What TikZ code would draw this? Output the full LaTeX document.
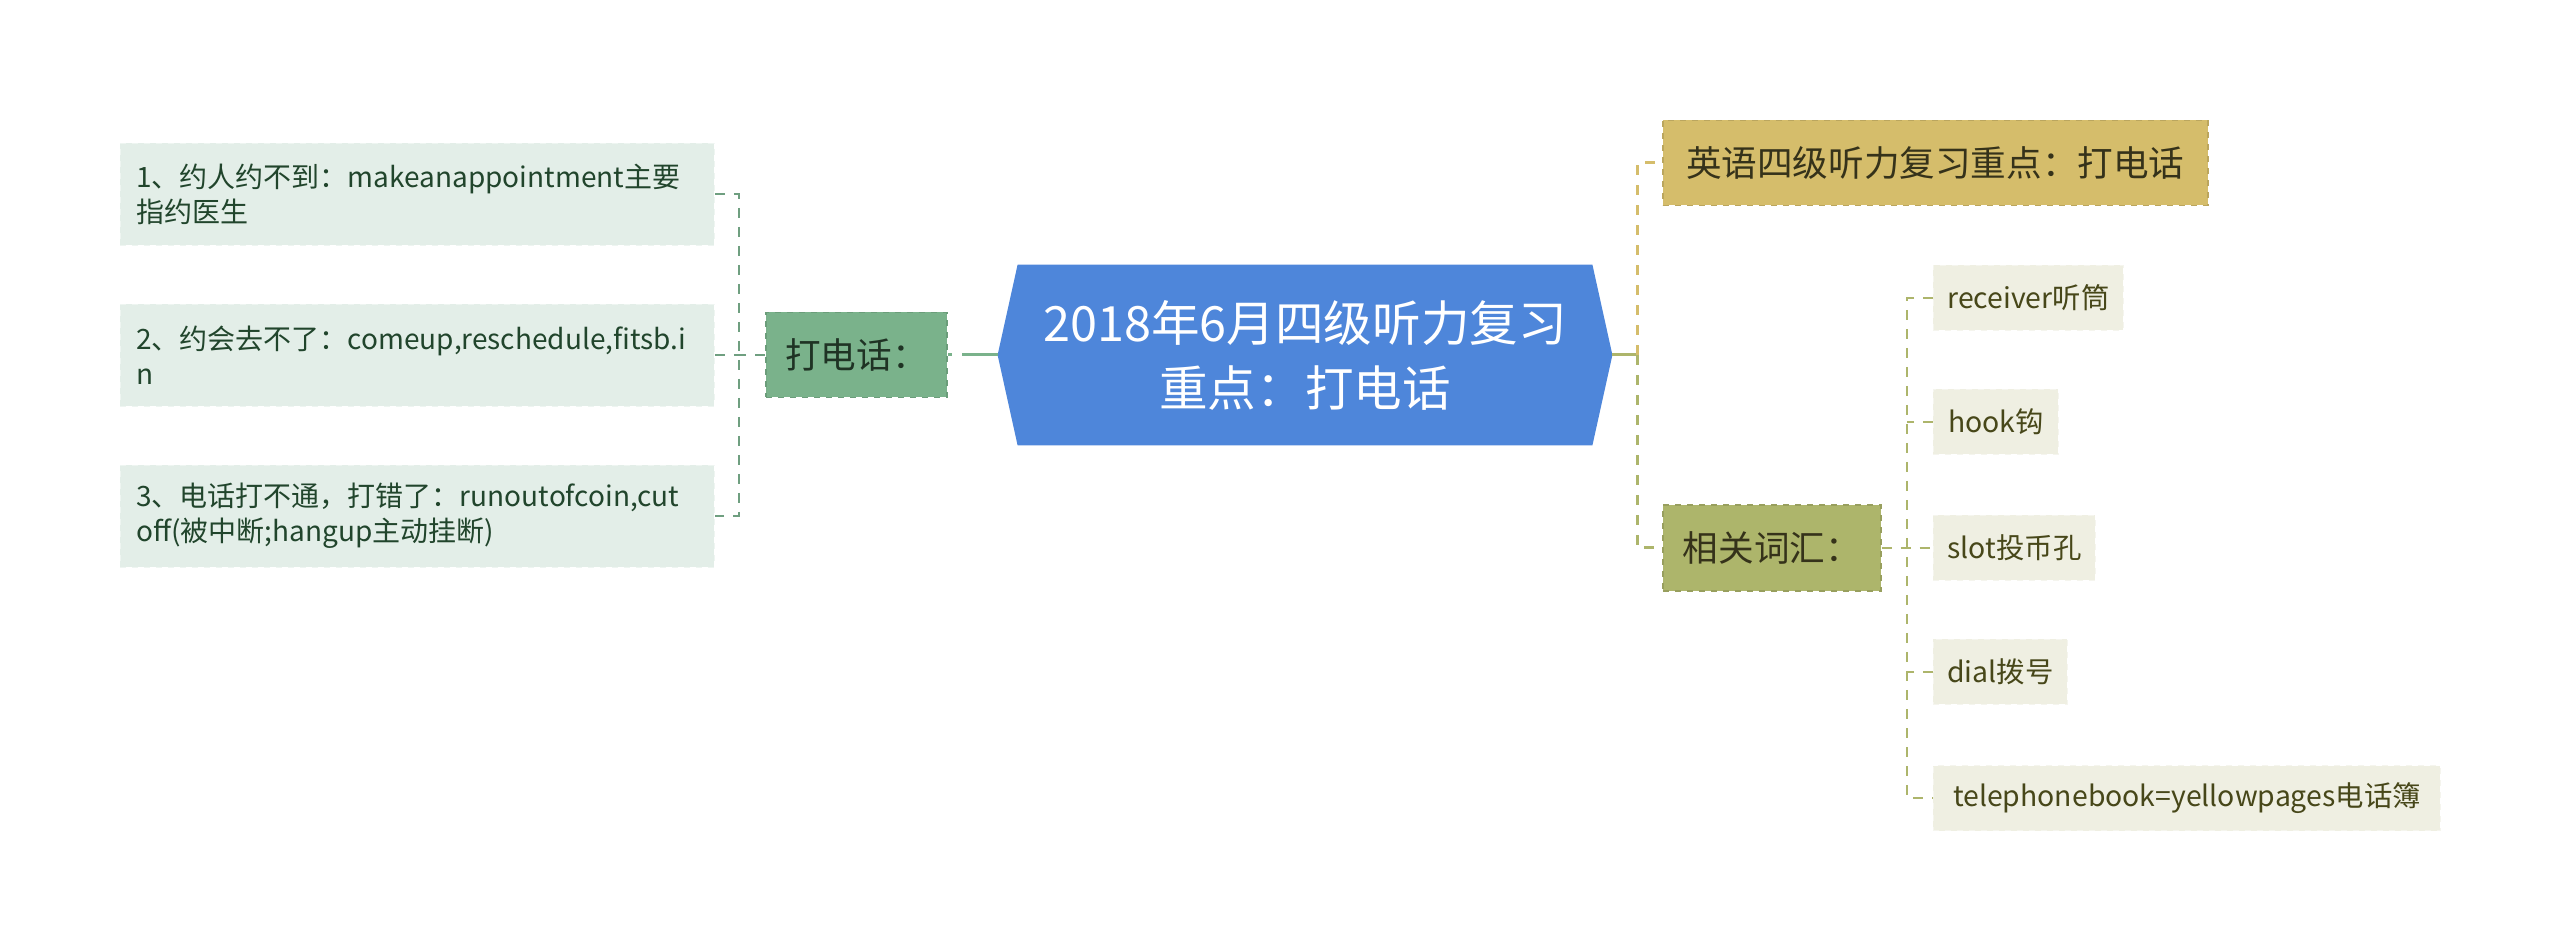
\documentclass[tikz,border=0pt]{standalone}
\usepackage{fontspec}
\setmainfont{Noto Sans CJK SC}
\usetikzlibrary{backgrounds}

\definecolor{rootblue}{HTML}{4E86DA}
\definecolor{callfill}{HTML}{7AB28B}
\definecolor{callline}{HTML}{6F9F80}
\definecolor{calltext}{HTML}{1F3324}
\definecolor{noteFill}{HTML}{E3EEE8}
\definecolor{notetext}{HTML}{21452C}
\definecolor{goldfill}{HTML}{D5BD6B}
\definecolor{olivefill}{HTML}{ADB56B}
\definecolor{wordfill}{HTML}{EFEFE2}
\definecolor{wordtext}{HTML}{474719}
\definecolor{darktext}{HTML}{35321A}

\tikzset{
  topic/.style={draw=#1!88!black, fill=#1, dashed, line width=0.8pt,
    inner sep=0pt, font=\fontsize{17.8}{21}\selectfont},
  note/.style={fill=noteFill, draw=noteFill!60!white, dashed, anchor=west,
    text width=281pt, align=left, inner xsep=8pt, inner ysep=0pt,
    minimum height=51pt, text=notetext, font=\fontsize{14}{17.5}\selectfont},
  word/.style={fill=wordfill, draw=wordfill!60!white, dashed, anchor=west,
    inner sep=0pt, minimum height=32.5pt, text=wordtext,
    font=\fontsize{14.2}{17}\selectfont},
  twig/.style={draw=#1, line width=1pt, dash pattern=on 5pt off 4.5pt},
  branch/.style={draw=#1, line width=1.5pt, dash pattern=on 5pt off 5pt}
}

\begin{document}
\begin{tikzpicture}[x=0.5pt,y=-0.5pt]
  \useasboundingbox (0,0) rectangle (2560,951);

  % centre
  \node[minimum width=307pt, minimum height=90pt, inner sep=0pt, align=center,
    text=white, font=\fontsize{24.3}{32.5}\selectfont] (root) at (1305,355)
    {2018年6月四级听力复习\\重点：打电话};
  \begin{scope}[on background layer]
    \fill[rootblue] ([xshift=10pt]root.north west) -- ([xshift=-10pt]root.north east)
      -- (root.east) -- ([xshift=-10pt]root.south east)
      -- ([xshift=10pt]root.south west) -- (root.west) -- cycle;
  \end{scope}

  % left branch
  \node[topic=callfill, text=calltext, minimum width=90.5pt, minimum height=42.5pt]
    (call) at (856.5,355) {打电话：};
  \node[note] (a1) at (120,194) {1、约人约不到：makeanappointment主要\\指约医生};
  \node[note] (a2) at (120,355) {2、约会去不了：comeup,reschedule,fitsb.i\\n};
  \node[note] (a3) at (120,516) {3、电话打不通，打错了：runoutofcoin,cut\\off(被中断;hangup主动挂断)};

  \draw[callfill, line width=1.5pt, dash pattern=on 18pt off 5pt] (root.west) -- (call.east);
  \coordinate (lj) at (739,355);
  \draw[twig=callline] (call.west) -- (lj);
  \draw[twig=callline] (a1.east) -- (a1.east -| lj) -- (a3.east -| lj) -- (a3.east);
  \draw[twig=callline] (a2.east) -- (lj);

  % right branch
  \node[topic=goldfill, text=darktext, anchor=west, minimum width=272.5pt,
    minimum height=42.5pt] (gold) at (1662,163) {英语四级听力复习重点：打电话};
  \node[topic=olivefill, text=darktext, anchor=west, minimum width=109pt,
    minimum height=43pt] (words) at (1662,548) {相关词汇：};

  \coordinate (rj) at (1637,355);
  \draw[olivefill, line width=1.5pt] (root.east) -- (rj);
  \draw[branch=goldfill] (rj) -- (rj |- gold.west) -- (gold.west);
  \draw[branch=olivefill] (rj) -- (rj |- words.west) -- (words.west);

  % words
  \node[word, minimum width=95pt] (v1) at (1933,298) {receiver听筒};
  \node[word, minimum width=62.5pt] (v2) at (1933,422) {hook钩};
  \node[word, minimum width=81pt] (v3) at (1933,548) {slot投币孔};
  \node[word, minimum width=67pt] (v4) at (1933,672) {dial拨号};
  \node[word, minimum width=253.5pt] (v5) at (1933,798) {telephonebook=yellowpages电话簿};

  \coordinate (wj) at (1907,548);
  \draw[twig=olivefill] (words.east) -- (v3.west);
  \draw[twig=olivefill] (v1.west) -- (v1.west -| wj) -- (v5.west -| wj) -- (v5.west);
  \draw[twig=olivefill] (v2.west) -- (v2.west -| wj);
  \draw[twig=olivefill] (v4.west) -- (v4.west -| wj);
\end{tikzpicture}
\end{document}
